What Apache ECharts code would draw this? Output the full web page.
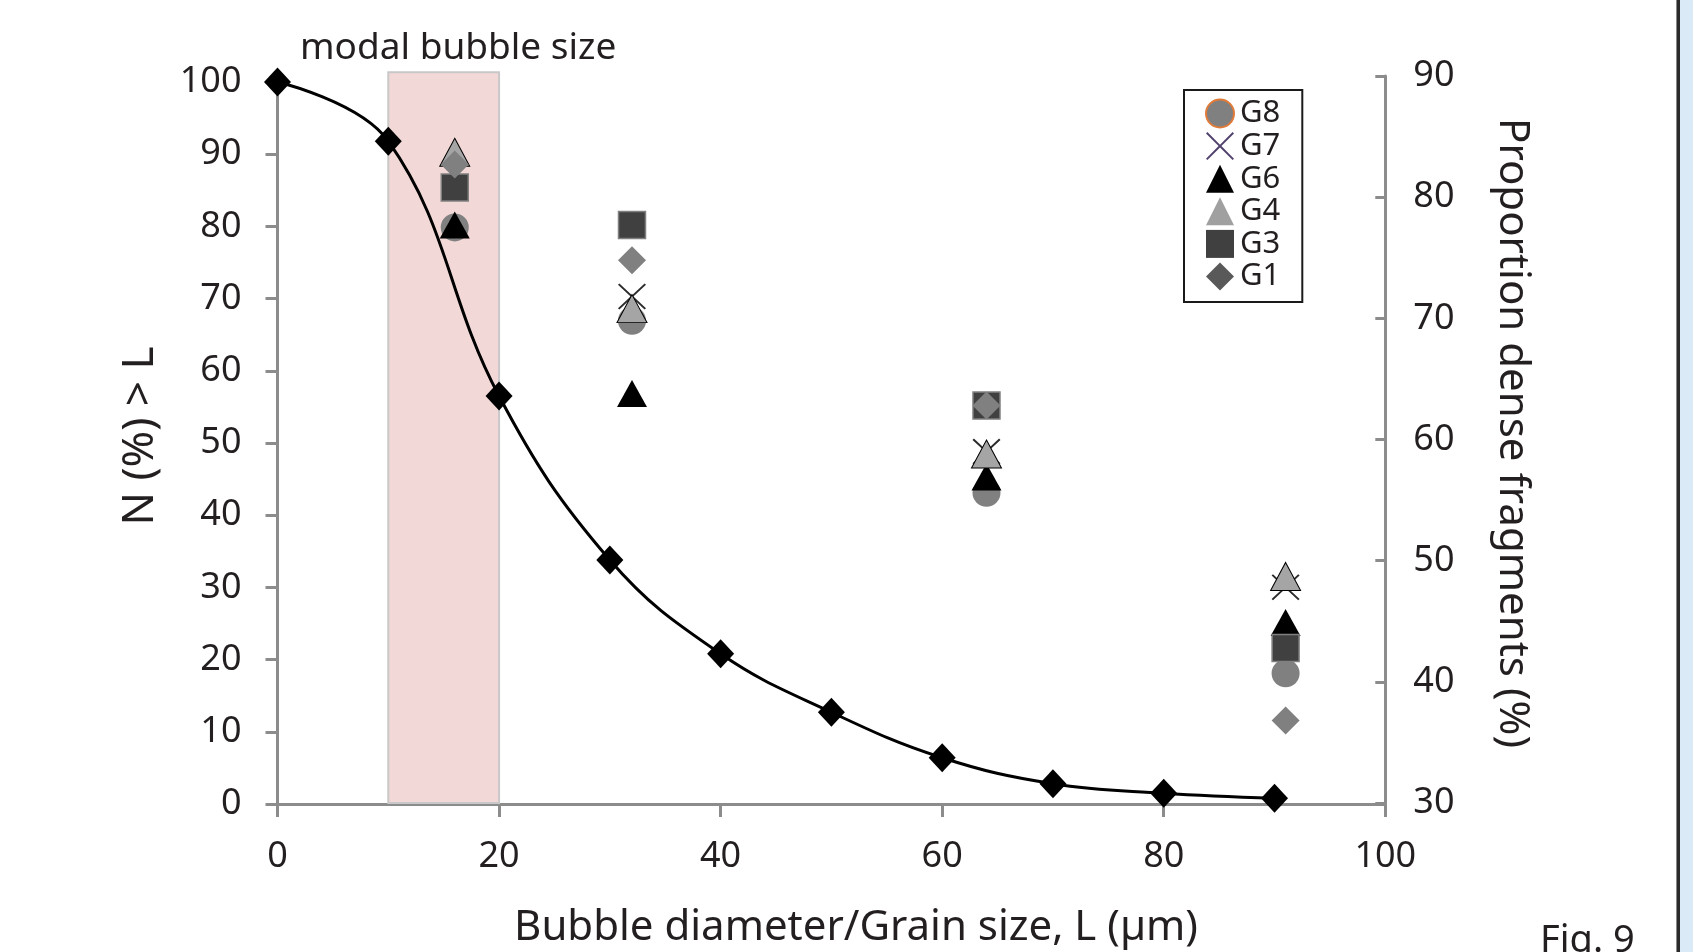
<!DOCTYPE html>
<html>
<head>
<meta charset="utf-8">
<script src="https://cdn.jsdelivr.net/npm/echarts@6/dist/echarts.min.js"></script>
<style>
html,body{margin:0;padding:0;background:#fff;}
#chart{width:1693px;height:952px;}
</style>
</head>
<body>
<div id="chart"></div>
<script>
// ---- data ----
const curveX = [0, 10, 20, 30, 40, 50, 60, 70, 80, 90];
const curveN = [100, 91.8, 56.5, 33.8, 20.8, 12.7, 6.4, 2.8, 1.5, 0.8];
const groupX = [16, 32, 64, 91];
const g8 = [77.5, 69.8, 55.6, 40.7];
const g7 = [null, 71.8, 59.0, 47.8];
const g6 = [77.7, 63.8, 56.9, 44.9];
const g4 = [83.7, 70.8, 58.8, 48.7];
const g3 = [80.8, 77.7, 62.8, 42.8];
const g1 = [82.7, 74.8, 62.8, 36.8];
const modalBand = [10, 20];
const xTicks = [0, 20, 40, 60, 80, 100];
const leftTicks = [0, 10, 20, 30, 40, 50, 60, 70, 80, 90, 100];
const rightTicks = [30, 40, 50, 60, 70, 80, 90];

const FONT = 'Noto Sans';
const TXT = '#231f20';
const AX = '#8c8c8c';

function pairs(xs, ys) {
  const out = [];
  for (let i = 0; i < xs.length; i++) {
    if (ys[i] !== null && ys[i] !== undefined) out.push([xs[i], ys[i]]);
  }
  return out;
}

const xPath = 'path://M1.5,0 L15,13.5 L28.5,0 L30,1.5 L16.5,15 L30,28.5 L28.5,30 L15,16.5 L1.5,30 L0,28.5 L13.5,15 L0,1.5 Z';

const chart = echarts.init(document.getElementById('chart'), null, {renderer: 'canvas'});

const option = {
  backgroundColor: '#ffffff',
  animation: false,
  textStyle: {fontFamily: FONT, color: TXT},
  grid: [
    {left: 277.5, right: 307.7, top: 82, bottom: 148, containLabel: false},
    {left: 277.5, right: 307.7, top: 76, bottom: 149, containLabel: false}
  ],
  title: [
    {text: 'modal bubble size', left: 300, top: 30, padding: 0,
     textStyle: {fontFamily: FONT, fontSize: 37, fontWeight: 'normal', color: TXT}},
    {text: 'Bubble diameter/Grain size, L (\u00b5m)', left: 856, top: 907, padding: 0, textAlign: 'center',
     textStyle: {fontFamily: FONT, fontSize: 42, fontWeight: 'normal', color: TXT}},
    {text: 'Fig. 9', left: 1540, top: 922, padding: 0,
     textStyle: {fontFamily: FONT, fontSize: 38, fontWeight: 'normal', color: TXT}}
  ],
  legend: {
    orient: 'vertical',
    left: 1184, top: 90,
    padding: [8, 22, 10, 21],
    itemGap: 1.6,
    itemWidth: 28, itemHeight: 28,
    borderColor: '#1a1a1a', borderWidth: 2,
    backgroundColor: '#ffffff',
    textStyle: {fontFamily: FONT, fontSize: 31, color: TXT, padding: [0, 0, 0, 1]},
    data: [
      {name: 'G8', itemStyle: {color: '#808080', borderColor: '#e07b39', borderWidth: 2}},
      {name: 'G7', itemStyle: {color: '#50426c'}},
      {name: 'G6', itemStyle: {color: '#000000'}},
      {name: 'G4', itemStyle: {color: '#a0a0a0', borderWidth: 0}},
      {name: 'G3', itemStyle: {color: '#404040', borderWidth: 0}},
      {name: 'G1', itemStyle: {color: '#595959'}}
    ]
  },
  xAxis: [
    {
      type: 'value', gridIndex: 0, min: 0, max: 100, interval: 20,
      axisLine: {show: true, lineStyle: {color: AX, width: 3}},
      axisTick: {show: true, length: 13, lineStyle: {color: AX, width: 3}},
      axisLabel: {fontFamily: FONT, fontSize: 36, color: TXT, margin: 35,
        formatter: v => (xTicks.indexOf(v) >= 0 ? String(v) : '')},
      splitLine: {show: false}
    },
    {type: 'value', gridIndex: 1, min: 0, max: 100, show: false, splitLine: {show: false}}
  ],
  yAxis: [
    {
      type: 'value', gridIndex: 0, min: 0, max: 100, interval: 10, position: 'left',
      axisLine: {show: true, onZero: false, lineStyle: {color: AX, width: 3}},
      axisTick: {show: true, length: 12, lineStyle: {color: AX, width: 3}},
      axisLabel: {fontFamily: FONT, fontSize: 36, color: TXT, margin: 36,
        formatter: v => (leftTicks.indexOf(v) >= 0 ? String(v) : '')},
      splitLine: {show: false}
    },
    {
      type: 'value', gridIndex: 1, min: 30, max: 90, interval: 10, position: 'right',
      axisLine: {show: true, onZero: false, lineStyle: {color: AX, width: 3}},
      axisTick: {show: true, inside: true, length: 10, lineStyle: {color: AX, width: 3}},
      axisLabel: {fontFamily: FONT, fontSize: 36, color: TXT, margin: 28,
        formatter: v => (rightTicks.indexOf(v) >= 0 ? String(v) : '')},
      splitLine: {show: false}
    }
  ],
  graphic: [
    {type: 'rect', left: 1680, top: 0, shape: {width: 13, height: 952}, style: {fill: '#daeaf6'}, z: 100},
    {type: 'rect', left: 1677, top: 0, shape: {width: 3, height: 952}, style: {fill: '#2a2a2a'}, z: 100},
    {type: 'rect', left: 1676, top: 0, shape: {width: 1, height: 952}, style: {fill: '#8a8a8a'}, z: 100},
    {type: 'text', x: 140, y: 436, rotation: Math.PI / 2,
     style: {text: 'N (%) > L', fontFamily: FONT, fontSize: 44, fill: TXT, align: 'center', verticalAlign: 'middle'}},
    {type: 'text', x: 1512, y: 433, rotation: -Math.PI / 2,
     style: {text: 'Proportion dense fragments (%)', fontFamily: FONT, fontSize: 42, fill: TXT, align: 'center', verticalAlign: 'middle'}}
  ],
  series: [
    {
      type: 'custom', name: 'band', xAxisIndex: 1, yAxisIndex: 1, z: 1, silent: true,
      data: [modalBand],
      encode: {x: [0, 1]},
      renderItem: function (params, api) {
        const p0 = api.coord([api.value(0), 90.3]);
        const p1 = api.coord([api.value(1), 30]);
        return {
          type: 'rect',
          shape: {x: p0[0], y: p0[1], width: p1[0] - p0[0], height: p1[1] - p0[1]},
          style: {fill: '#f2d9d7', stroke: '#c8c8c8', lineWidth: 2}
        };
      }
    },
    {
      type: 'line', name: 'N', xAxisIndex: 0, yAxisIndex: 0, z: 3,
      data: pairs(curveX, curveN),
      smooth: 0.4,
      symbol: 'diamond', symbolSize: [27, 29],
      lineStyle: {color: '#000', width: 3},
      itemStyle: {color: '#000'}
    },
    {type: 'scatter', name: 'G8', xAxisIndex: 1, yAxisIndex: 1, z: 4, data: pairs(groupX, g8),
     symbol: 'circle', symbolSize: 28, itemStyle: {color: '#808080', opacity: 1}},
    {type: 'scatter', name: 'G7', xAxisIndex: 1, yAxisIndex: 1, z: 4, data: pairs(groupX, g7),
     symbol: xPath, symbolSize: [28, 26], itemStyle: {color: '#2b2b2b', opacity: 1}},
    {type: 'scatter', name: 'G6', xAxisIndex: 1, yAxisIndex: 1, z: 4, data: pairs(groupX, g6),
     symbol: 'triangle', symbolSize: [30, 27], itemStyle: {color: '#000000', opacity: 1}},
    {type: 'scatter', name: 'G4', xAxisIndex: 1, yAxisIndex: 1, z: 4, data: pairs(groupX, g4),
     symbol: 'triangle', symbolSize: [30, 28], itemStyle: {color: '#a5a5a5', borderColor: '#000', borderWidth: 1, opacity: 1}},
    {type: 'scatter', name: 'G3', xAxisIndex: 1, yAxisIndex: 1, z: 4, data: pairs(groupX, g3),
     symbol: 'rect', symbolSize: 27, itemStyle: {color: '#404040', borderColor: '#808080', borderWidth: 1.5, opacity: 1}},
    {type: 'scatter', name: 'G1', xAxisIndex: 1, yAxisIndex: 1, z: 4, data: pairs(groupX, g1),
     symbol: 'diamond', symbolSize: 28, itemStyle: {color: '#808080', opacity: 1}}
  ]
};

chart.setOption(option);
</script>
</body>
</html>
